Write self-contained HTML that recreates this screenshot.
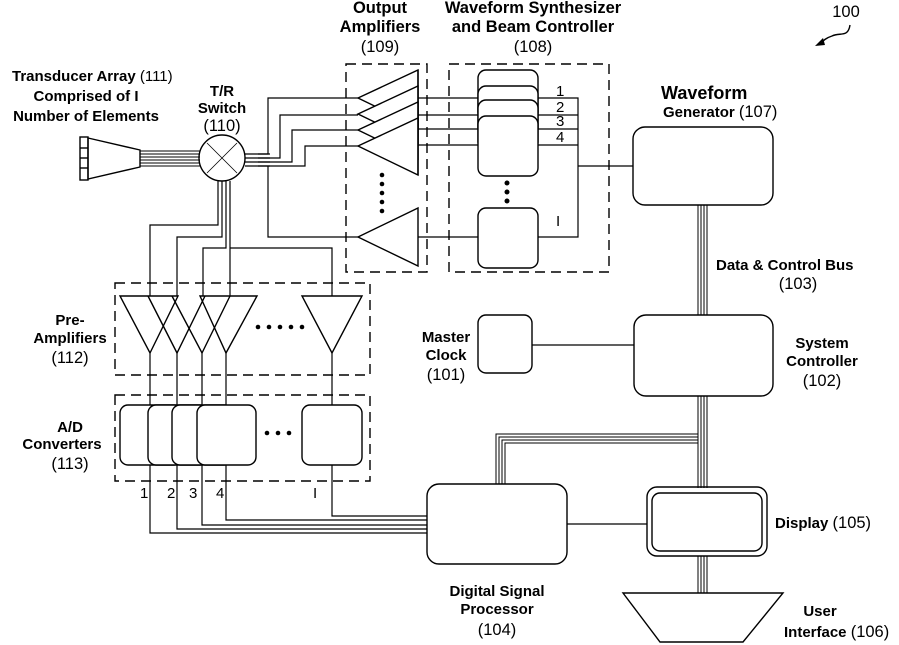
<!DOCTYPE html>
<html><head><meta charset="utf-8"><style>
html,body{margin:0;padding:0;background:#fff;}
svg{display:block;}
text{font-family:"Liberation Sans",sans-serif;font-size:15px;fill:#000;}
.b{font-weight:bold;}
.h{font-size:16.5px;}
</style></head><body>
<svg width="899" height="645" viewBox="0 0 899 645" xmlns="http://www.w3.org/2000/svg">
<g fill="none" stroke="#000" stroke-width="1.4">
<path d="M88 138 L140 150 L140 167 L88 179 Z"/>
<rect x="80" y="137" width="8" height="43"/>
<line x1="80" y1="148" x2="88" y2="148"/><line x1="80" y1="158" x2="88" y2="158"/><line x1="80" y1="168" x2="88" y2="168"/>
<g stroke-width="1"><line x1="140" y1="151" x2="200" y2="151"/><line x1="140" y1="154" x2="200" y2="154"/><line x1="140" y1="157" x2="200" y2="157"/><line x1="140" y1="160" x2="200" y2="160"/><line x1="140" y1="163" x2="200" y2="163"/><line x1="140" y1="166" x2="200" y2="166"/></g>
<circle cx="222" cy="158" r="23"/>
<line x1="207" y1="143" x2="237" y2="173" stroke-width="0.8"/><line x1="237" y1="143" x2="207" y2="173" stroke-width="0.8"/>
<g stroke-width="1.2">
<line x1="245" y1="154" x2="270" y2="154"/><line x1="245" y1="158" x2="270" y2="158"/><line x1="245" y1="162" x2="270" y2="162"/><line x1="245" y1="166" x2="270" y2="166"/>
<polyline points="258,154 268,154 268,98 358,98"/>
<polyline points="258,158 280,158 280,115 358,115"/>
<polyline points="258,162 292,162 292,130 358,130"/>
<polyline points="258,166 305,166 305,146 358,146"/>
<polyline points="268,166 268,237 358,237"/>
<polyline points="218,181 218,225 150,225 150,296"/>
<polyline points="222,181 222,237 177,237 177,296"/>
<polyline points="226,181 226,248 203,248 203,296"/>
<polyline points="230,181 230,296"/>
<polyline points="230,248 332,248 332,296"/>
</g>
<!-- output amps -->
<path d="M418 70 L418 127 L358 98 Z" fill="#fff"/>
<path d="M418 86 L418 143 L358 114 Z" fill="#fff"/>
<path d="M418 102 L418 159 L358 130 Z" fill="#fff"/>
<path d="M418 118 L418 175 L358 146 Z" fill="#fff"/>
<line x1="418" y1="70" x2="418" y2="175"/>
<path d="M418 208 L418 266 L358 237 Z"/>
<rect x="346" y="64" width="81" height="208" stroke-dasharray="10,6"/>
<rect x="449" y="64" width="160" height="208" stroke-dasharray="10,6"/>
<rect x="478" y="70" width="60" height="50" rx="8"/>
<rect x="478" y="86" width="60" height="50" rx="8" fill="#fff"/>
<rect x="478" y="100" width="60" height="50" rx="8" fill="#fff"/>
<rect x="478" y="116" width="60" height="60" rx="8" fill="#fff"/>
<rect x="478" y="208" width="60" height="60" rx="8"/>
<g stroke-width="1.2">
<line x1="418" y1="98" x2="478" y2="98"/><line x1="418" y1="115" x2="478" y2="115"/><line x1="418" y1="129" x2="478" y2="129"/><line x1="418" y1="145" x2="478" y2="145"/><line x1="418" y1="237" x2="478" y2="237"/>
<polyline points="538,98 578,98 578,237 538,237"/>
<line x1="538" y1="115" x2="578" y2="115"/><line x1="538" y1="129" x2="578" y2="129"/><line x1="538" y1="145" x2="578" y2="145"/>
<line x1="578" y1="166" x2="633" y2="166"/>
</g>
<rect x="633" y="127" width="140" height="78" rx="12"/>
<rect x="634" y="315" width="139" height="81" rx="12"/>
<rect x="478" y="315" width="54" height="58" rx="8"/>
<line x1="532" y1="345" x2="634" y2="345" stroke-width="1.2"/>
<g stroke-width="1"><line x1="698" y1="205" x2="698" y2="315"/><line x1="701" y1="205" x2="701" y2="315"/><line x1="704" y1="205" x2="704" y2="315"/><line x1="707" y1="205" x2="707" y2="315"/>
<line x1="698" y1="396" x2="698" y2="488"/><line x1="701" y1="396" x2="701" y2="488"/><line x1="704" y1="396" x2="704" y2="488"/><line x1="707" y1="396" x2="707" y2="488"/>
<polyline points="698,434 496,434 496,484"/><polyline points="698,437 499,437 499,484"/><polyline points="698,440 502,440 502,484"/><polyline points="698,443 505,443 505,484"/>
<line x1="698" y1="556" x2="698" y2="593"/><line x1="701" y1="556" x2="701" y2="593"/><line x1="704" y1="556" x2="704" y2="593"/><line x1="707" y1="556" x2="707" y2="593"/></g>
<rect x="427" y="484" width="140" height="80" rx="12"/>
<rect x="647" y="487" width="120" height="69" rx="10"/>
<rect x="652" y="493" width="110" height="58" rx="8"/>
<line x1="567" y1="524" x2="647" y2="524" stroke-width="1.2"/>
<path d="M623 593 L783 593 L743 642 L660 642 Z"/>
<rect x="115" y="283" width="255" height="92" stroke-dasharray="10,6"/>
<path d="M120 296 L178 296 L150 353 Z"/>
<path d="M148 296 L177 353 L205 296"/>
<path d="M172 296 L202 353 L230 296"/>
<path d="M200 296 L257 296 L226 353 Z"/>
<path d="M302 296 L362 296 L332 353 Z"/>
<rect x="115" y="395" width="255" height="86" stroke-dasharray="10,6"/>
<rect x="120" y="405" width="62" height="60" rx="8"/>
<rect x="148" y="405" width="60" height="60" rx="8" fill="#fff"/>
<rect x="172" y="405" width="60" height="60" rx="8" fill="#fff"/>
<rect x="197" y="405" width="59" height="60" rx="8" fill="#fff"/>
<rect x="302" y="405" width="60" height="60" rx="8"/>
<g stroke-width="1.2">
<line x1="150" y1="353" x2="150" y2="405"/><line x1="177" y1="353" x2="177" y2="405"/><line x1="202" y1="353" x2="202" y2="405"/><line x1="226" y1="353" x2="226" y2="405"/><line x1="332" y1="353" x2="332" y2="405"/>
<polyline points="150,465 150,533 427,533"/><polyline points="177,465 177,529 427,529"/><polyline points="202,465 202,525 427,525"/><polyline points="226,465 226,520 427,520"/><polyline points="332,465 332,516 427,516"/>
</g>
<path d="M850 25 C848 38 840 32 832 36 C826 38 824 40 820 44" stroke-width="1.4"/>
</g>
<path d="M815 46 L823 38 L825 45 Z" fill="#000"/>
<g fill="#000">
<circle cx="382" cy="175" r="2.3"/><circle cx="382" cy="184" r="2.3"/><circle cx="382" cy="193" r="2.3"/><circle cx="382" cy="202" r="2.3"/><circle cx="382" cy="211" r="2.3"/>
<circle cx="507" cy="183" r="2.5"/><circle cx="507" cy="192" r="2.5"/><circle cx="507" cy="201" r="2.5"/>
<circle cx="258" cy="327" r="2.3"/><circle cx="269" cy="327" r="2.3"/><circle cx="280" cy="327" r="2.3"/><circle cx="291" cy="327" r="2.3"/><circle cx="302" cy="327" r="2.3"/>
<circle cx="267" cy="433" r="2.3"/><circle cx="278" cy="433" r="2.3"/><circle cx="289" cy="433" r="2.3"/>
</g>
<text x="12" y="81" class="b">Transducer Array <tspan font-weight="normal">(111)</tspan></text>
<text x="86" y="101" class="b" text-anchor="middle">Comprised of I</text>
<text x="86" y="121" class="b" text-anchor="middle">Number of Elements</text>
<text x="222" y="96" class="b" text-anchor="middle">T/R</text>
<text x="222" y="113" class="b" text-anchor="middle">Switch</text>
<text x="222" y="131" class="h" text-anchor="middle">(110)</text>
<text x="380" y="13" class="b h" text-anchor="middle">Output</text>
<text x="380" y="32" class="b h" text-anchor="middle">Amplifiers</text>
<text x="380" y="52" class="h" text-anchor="middle">(109)</text>
<text x="533" y="13" class="b h" text-anchor="middle">Waveform Synthesizer</text>
<text x="533" y="32" class="b h" text-anchor="middle">and Beam Controller</text>
<text x="533" y="52" class="h" text-anchor="middle">(108)</text>
<text x="846" y="17" text-anchor="middle" class="h">100</text>
<text x="661" y="99" class="b" style="font-size:18px">Waveform</text>
<text x="663" y="117"><tspan font-weight="bold">Generator</tspan> <tspan class="h">(107)</tspan></text>
<text x="716" y="270" class="b">Data &amp; Control Bus</text>
<text x="798" y="289" text-anchor="middle" class="h">(103)</text>
<text x="822" y="348" class="b" text-anchor="middle">System</text>
<text x="822" y="366" class="b" text-anchor="middle">Controller</text>
<text x="822" y="386" text-anchor="middle" class="h">(102)</text>
<text x="446" y="342" class="b" text-anchor="middle">Master</text>
<text x="446" y="360" class="b" text-anchor="middle">Clock</text>
<text x="446" y="380" text-anchor="middle" class="h">(101)</text>
<text x="70" y="325" class="b" text-anchor="middle">Pre-</text>
<text x="70" y="343" class="b" text-anchor="middle">Amplifiers</text>
<text x="70" y="363" text-anchor="middle" class="h">(112)</text>
<text x="70" y="432" class="b" text-anchor="middle">A/D</text>
<text x="62" y="449" class="b" text-anchor="middle">Converters</text>
<text x="70" y="469" text-anchor="middle" class="h">(113)</text>
<text x="497" y="596" class="b" text-anchor="middle">Digital Signal</text>
<text x="497" y="614" class="b" text-anchor="middle">Processor</text>
<text x="497" y="635" text-anchor="middle" class="h">(104)</text>
<text x="775" y="528"><tspan font-weight="bold">Display</tspan> <tspan class="h">(105)</tspan></text>
<text x="820" y="616" class="b" text-anchor="middle">User</text>
<text x="784" y="637"><tspan font-weight="bold">Interface</tspan> <tspan class="h">(106)</tspan></text>
<g style="font-size:12px">
<text x="556" y="96">1</text><text x="556" y="112">2</text><text x="556" y="126">3</text><text x="556" y="142">4</text><text x="556" y="226">I</text>
<text x="140" y="498">1</text><text x="167" y="498">2</text><text x="189" y="498">3</text><text x="216" y="498">4</text><text x="313" y="498">I</text>
</g>
</svg>
</body></html>
